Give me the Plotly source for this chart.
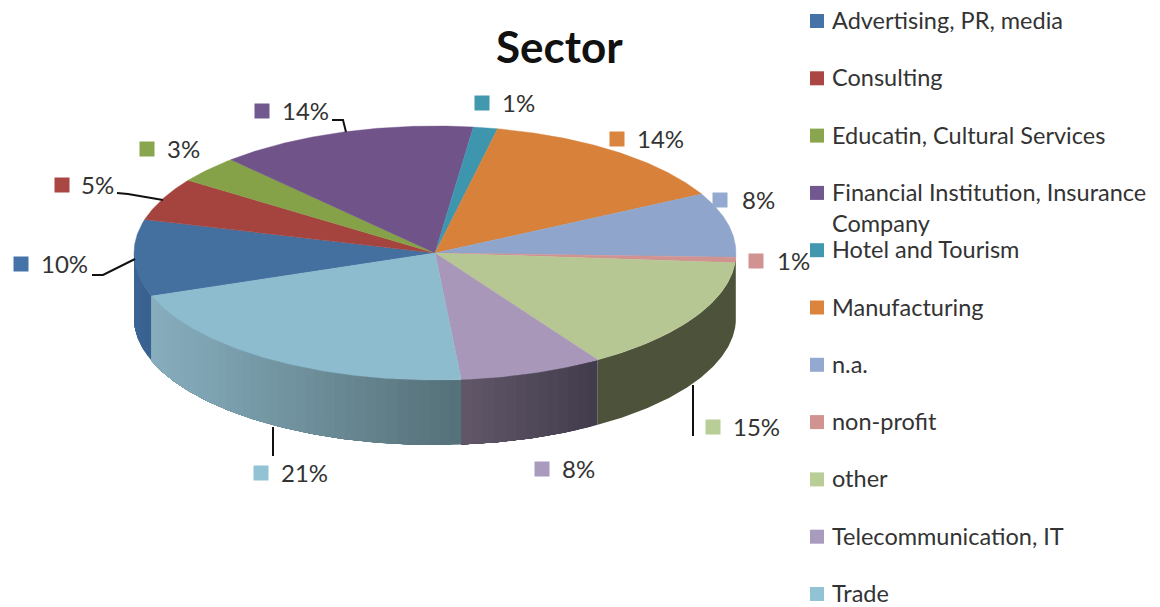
import numpy as np
import plotly.graph_objects as go

# ---- data ----
categories = ["Advertising, PR, media", "Consulting", "Educatin, Cultural Services",
              "Financial Institution, Insurance<br>Company", "Hotel and Tourism", "Manufacturing",
              "n.a.", "non-profit", "other", "Telecommunication, IT", "Trade"]
values = [9.75, 5.45, 3.45, 13.9, 1.3, 14.0, 8.2, 0.7, 14.7, 7.7, 20.9]

# ---- style ----
top_colors = ["#44709F", "#A5443F", "#86A248", "#6F5389", "#3D96AE", "#D7813A",
              "#8FA5CB", "#D19392", "#B6C793", "#A897B9", "#8DBCCF"]
key_colors = ["#4572A7", "#AA4643", "#89A54E", "#71588F", "#4198AF", "#DB843D",
              "#93A9CF", "#D19392", "#B9CD96", "#A99BBD", "#92C3D5"]
side_right = ["#3A6290", "#6E2E2A", "#5A6C30", "#4A385C", "#296474", "#8F5626",
              "#4D533A", "#4D533A", "#4D533A", "#413C4C", "#557078"]
side_left = ["#3C6595", "#6E2E2A", "#5A6C30", "#4A385C", "#296474", "#8F5626",
             "#4D533A", "#4D533A", "#4D533A", "#625869", "#88AFBF"]
CX, CY, RX, RY, DEPTH = 435, 253, 301, 127, 65
START_DEG = 160.2
FONT = "Lato"
TXT = "#333333"
label_pos = [(21, 264, 41), (62, 185, 81), (147, 149, 167), (262, 111, 282), (482, 103, 502),
             (617, 139, 637), (720, 200, 742), (756, 261, 777), (713, 427, 733), (542, 469, 562),
             (261, 473, 281)]
leaders = [[(92, 275), (103, 275), (135, 259)],
           [(117, 193), (128, 194), (163, 200)],
           [(332, 120), (343, 120), (346, 132)],
           [(693, 385), (693, 436)],
           [(273, 427), (273, 456)]]
LEG_X, LEG_Y0, LEG_DY = 817, 21, 57.3


def hex2rgb(h):
    return np.array([int(h[i:i + 2], 16) for i in (1, 3, 5)], float)


def ell(deg, dy=0):
    t = np.radians(deg)
    return CX + RX * np.cos(t), CY + RY * np.sin(t) + dy


fig = go.Figure()
total = sum(values)
spans = [v / total * 360 for v in values]
starts = START_DEG + np.concatenate([[0], np.cumsum(spans)[:-1]])

# rim of the disc (only the front half, angles 0..180 show)
for i, (s, sp) in enumerate(zip(starts, spans)):
    for off in (0, 360, -360):
        a0, a1 = max(s + off, 0), min(s + sp + off, 180)
        if a1 <= a0:
            continue
        n = max(1, int((a1 - a0) / 2))
        if side_left[i] == side_right[i]:
            n = 1
        xa, xb = ell(a1)[0], ell(a0)[0]
        edges = np.linspace(a0, a1, n + 1)
        # each band runs on to the end of the slice; the next one paints over it, so no seams
        for e0, e1 in zip(edges[:-1], edges[1:]):
            xm = ell((e0 + e1) / 2)[0]
            f = 0 if xb == xa else (xm - xa) / (xb - xa)
            c = hex2rgb(side_left[i]) * (1 - f) + hex2rgb(side_right[i]) * f
            col = "rgb(%d,%d,%d)" % tuple(c)
            arc = np.linspace(e0, a1, max(3, int((a1 - e0) * 2)))
            xt, yt = ell(arc)
            xo, yo = ell(arc[::-1], DEPTH)
            fig.add_trace(go.Scatter(x=np.r_[xt, xo], y=np.r_[yt, yo], mode="lines", fill="toself",
                                     fillcolor=col, line=dict(width=0),
                                     hoverinfo="skip", showlegend=False))

# top face
for i, (s, sp) in enumerate(zip(starts, spans)):
    arc = np.linspace(s, s + sp, max(8, int(sp * 2)))
    xt, yt = ell(arc)
    fig.add_trace(go.Scatter(x=np.r_[CX, xt, CX], y=np.r_[CY, yt, CY], mode="lines", fill="toself",
                             fillcolor=top_colors[i], line=dict(color=top_colors[i], width=0.4),
                             name=categories[i].replace("<br>", " "), hoverinfo="name", showlegend=False))

# leader lines
for pts in leaders:
    fig.add_trace(go.Scatter(x=[p[0] for p in pts], y=[p[1] for p in pts], mode="lines",
                             line=dict(color="#111111", width=2), hoverinfo="skip", showlegend=False))

# data-label keys and percentages
fig.add_trace(go.Scatter(x=[p[0] for p in label_pos], y=[p[1] for p in label_pos], mode="markers",
                         marker=dict(symbol="square", size=15, color=key_colors),
                         hoverinfo="skip", showlegend=False))
fig.add_trace(go.Scatter(x=[p[2] for p in label_pos], y=[p[1] + 3 for p in label_pos], mode="text",
                         text=["%d%%" % round(v) for v in values], textposition="middle right",
                         textfont=dict(family=FONT, size=24, color=TXT),
                         hoverinfo="skip", showlegend=False))

# legend column
leg_y = [LEG_Y0 + LEG_DY * i for i in range(len(categories))]
fig.add_trace(go.Scatter(x=[LEG_X] * len(categories), y=leg_y, mode="markers",
                         marker=dict(symbol="square", size=14, color=key_colors),
                         hoverinfo="skip", showlegend=False))
ann = []
for c, y in zip(categories, leg_y):
    ann.append(dict(x=LEG_X + 14, y=y - 16, xref="x", yref="y", text=c, showarrow=False,
                    xanchor="left", yanchor="top", align="left", borderpad=0,
                    font=dict(family=FONT, size=23.5, color=TXT)))
ann.append(dict(x=559, y=46, xref="x", yref="y", text="<b>Sector</b>", showarrow=False,
                font=dict(family=FONT, size=44, color="#111111")))

fig.update_layout(width=1160, height=607, margin=dict(l=0, r=0, t=0, b=0),
                  paper_bgcolor="white", plot_bgcolor="white", annotations=ann,
                  xaxis=dict(range=[0, 1160], visible=False, fixedrange=True),
                  yaxis=dict(range=[607, 0], visible=False, fixedrange=True))
fig.write_html("out.html", config=dict(displayModeBar=False),
               post_script="document.body.style.margin='0';document.documentElement.style.overflow='hidden';")
